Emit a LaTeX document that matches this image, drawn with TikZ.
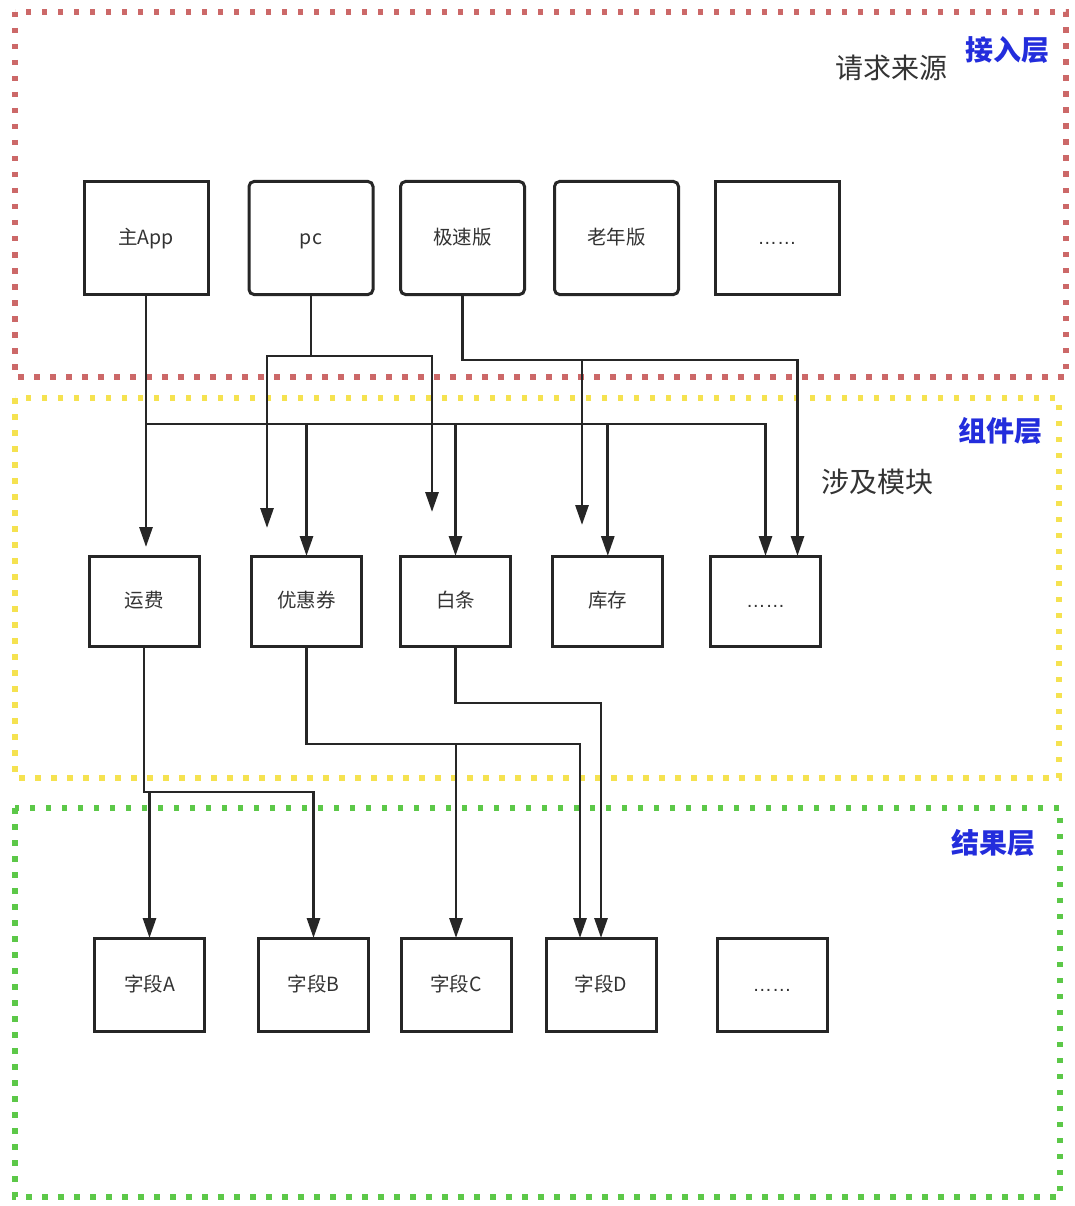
\documentclass[tikz,border=0pt]{standalone}
\usepackage{fontspec}
\setmainfont{Noto Sans CJK SC}
\newfontfamily\latinfont{Liberation Sans}
\usetikzlibrary{positioning,arrows.meta}
\definecolor{txtgray}{HTML}{333333}
\definecolor{layerblue}{RGB}{35,45,220}
\definecolor{dotred}{RGB}{204,104,104}
\definecolor{dotyellow}{RGB}{245,226,80}
\definecolor{dotgreen}{RGB}{92,200,72}
\newcommand{\morelabel}{{\latinfont ……}}

\begin{document}
\begin{tikzpicture}[
  x=1pt, y=1pt,
  font=\fontsize{19.5}{22}\selectfont,
  src/.style={draw=black!85, line width=3pt, rounded corners=5pt, outer sep=0pt, inner sep=0pt, minimum width=124pt, minimum height=113pt, text height=16pt, text depth=3pt, text=txtgray},
  mod/.style={draw=black!85, line width=3pt, outer sep=0pt, inner sep=0pt, minimum width=110pt, minimum height=90pt, text height=16pt, text depth=3pt, text=txtgray},
  fld/.style={mod, minimum height=93pt},
  arr/.style={draw=black!85, line width=2.9pt, -{Triangle[length=20pt,width=13pt]}},
  layer/.style={line width=5.5pt, dash pattern=on 5.5pt off 10.5pt},
  title/.style={font=\bfseries\fontsize{28}{32}\selectfont, text=layerblue},
  note/.style={font=\fontsize{28}{32}\selectfont, text=txtgray}]
\fill[white] (0,0) rectangle (1074,-1206);
\useasboundingbox (0,0) rectangle (1074,-1206);
\draw[layer, draw=dotred] (15,-12) rectangle (1066,-377);
\draw[layer, draw=dotyellow] (15,-398) rectangle (1059,-778);
\draw[layer, draw=dotgreen] (15,-808) rectangle (1060,-1197);
\node[title] (accessT) at (1007,-50) {接入层};
\node[note] (srcT) at (891,-68) {请求来源};
\node[title] (compT) at (1000,-431) {组件层};
\node[note] (modT) at (877,-482) {涉及模块};
\node[title] (resT) at (993,-843) {结果层};
\node[src, sharp corners] (app) at (146,-238) {主App};
\node[src, right=41pt of app] (pc) {pc};
\node[src, right=27.5pt of pc] (fast) {极速版};
\node[src, right=30pt of fast] (old) {老年版};
\node[src, sharp corners, right=36.5pt of old] (srcmore) {\morelabel};
\node[mod] (freight) at (144,-601) {运费};
\node[mod, right=52.5pt of freight] (coupon) {优惠券};
\node[mod, right=39pt of coupon] (baitiao) {白条};
\node[mod, right=42.3pt of baitiao] (stock) {库存};
\node[mod, right=47.7pt of stock] (modmore) {\morelabel};
\node[fld] (fA) at (149.5,-984.5) {字段A};
\node[fld, right=54pt of fA] (fB) {字段B};
\node[fld, right=32.5pt of fB] (fC) {字段C};
\node[fld, right=35pt of fC] (fD) {字段D};
\node[fld, right=61pt of fD] (fldmore) {\morelabel};
\coordinate (pcl) at (267,-528);
\coordinate (pcr) at (432,-512);
\coordinate (fastend) at (582,-525);
\coordinate (morein) at ([xshift=32pt]modmore.north);
\coordinate (fDin) at ([xshift=-21pt]fD.north);
\draw[arr, shorten >=9pt] (app.south) -- (app.south |- freight.north);
\draw[arr] (app.south |- 0,-424) -| (modmore.north);
\foreach \m in {coupon,baitiao,stock}
  \draw[arr] (\m.north |- 0,-424) -- (\m.north);
\draw[arr] (pc.south) |- (pcl |- 0,-356) -- (pcl);
\draw[arr] (pc.south) |- (pcr |- 0,-356) -- (pcr);
\draw[arr] (fast.south) |- (fastend |- 0,-360) -- (fastend);
\draw[arr] (fast.south) |- (morein |- 0,-360) -- (morein);
\draw[arr] (freight.south) -- (freight.south |- 0,-792) -| (fA.north);
\draw[arr] (freight.south) -- (freight.south |- 0,-792) -| (fB.north);
\draw[arr] (coupon.south) -- (coupon.south |- 0,-744) -| (fC.north);
\draw[arr] (coupon.south) -- (coupon.south |- 0,-744) -| (fDin);
\draw[arr] (baitiao.south) -- (baitiao.south |- 0,-703) -| (fD.north);
\end{tikzpicture}
\end{document}
